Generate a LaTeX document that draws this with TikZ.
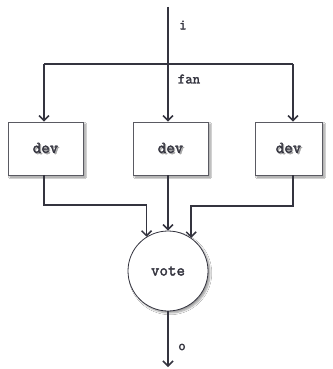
\documentclass[tikz,border=0pt]{standalone}
\usepackage{fontspec}
\newfontfamily\courb[FakeBold=2]{Latin Modern Mono}
\usetikzlibrary{arrows.meta,shadows.blur}
\definecolor{ln}{HTML}{34343F}
\definecolor{bx}{HTML}{5A5A62}
\newcommand\shtxt[1]{\rlap{\raisebox{-1.3pt}{\hspace{1.3pt}\textcolor{black!35}{#1}}}#1}
\tikzset{
  arr/.style={draw=ln, line width=1.5pt, -{Straight Barb[length=5pt,width=10pt]}},
  ln/.style={draw=ln, line width=1.5pt},
  devbox/.style={draw=bx, fill=white, line width=0.8pt, minimum height=53pt, inner sep=0pt,
    font=\courb\fontsize{16.5}{18}\selectfont, text=ln,
    blur shadow={shadow xshift=2pt, shadow yshift=-2pt, shadow blur steps=6, shadow opacity=45}},
  votec/.style={circle, draw=ln, fill=white, line width=0.8pt, minimum size=80pt, inner sep=0pt,
    font=\courb\fontsize{16.5}{18}\selectfont, text=ln,
    blur shadow={shadow xshift=2pt, shadow yshift=-2pt, shadow blur steps=6, shadow opacity=40}},
  lbl/.style={font=\courb\fontsize{14.5}{16}\selectfont, text=ln, inner sep=0pt}
}
\begin{document}
\begin{tikzpicture}[x=1pt,y=-1pt]
\useasboundingbox[fill=white] (0,0) rectangle (332,369);
\coordinate (in) at (168,7);
\coordinate (fanc) at (168,64);
\coordinate (fl) at (44,64);
\coordinate (fr) at (293,64);
\coordinate (out) at (168,367);
\node[devbox, minimum width=75pt] (dev1) at (45.5,148.5) {\shtxt{dev}};
\node[devbox, minimum width=75pt] (dev2) at (170.5,148.5) {\shtxt{dev}};
\node[devbox, minimum width=67pt] (dev3) at (288.5,148.5) {\shtxt{dev}};
\node[votec] (vote) at (168,271) {vote};
\node[lbl] (li) at (183,25) {i};
\node[lbl] (lfan) at (189,79) {fan};
\node[lbl] (lo) at (182,347) {o};
% fan-out
\draw[ln] (in) -- (fanc);
\draw[ln] (fl) -- (fr);
\draw[arr] (fl) -- (fl |- dev1.north);
\draw[arr] (fanc) -- (fanc |- dev2.north);
\draw[arr] (fr) -- (fr |- dev3.north);
% fan-in
\draw[arr] (fl |- dev1.south) -- (44,205) -| (vote.122);
\draw[arr] (fanc |- dev2.south) -- (vote.north);
\draw[arr] (fr |- dev3.south) -- (293,206) -| (vote.55);
% output
\draw[arr] (vote.south) -- (out);
\end{tikzpicture}
\end{document}
